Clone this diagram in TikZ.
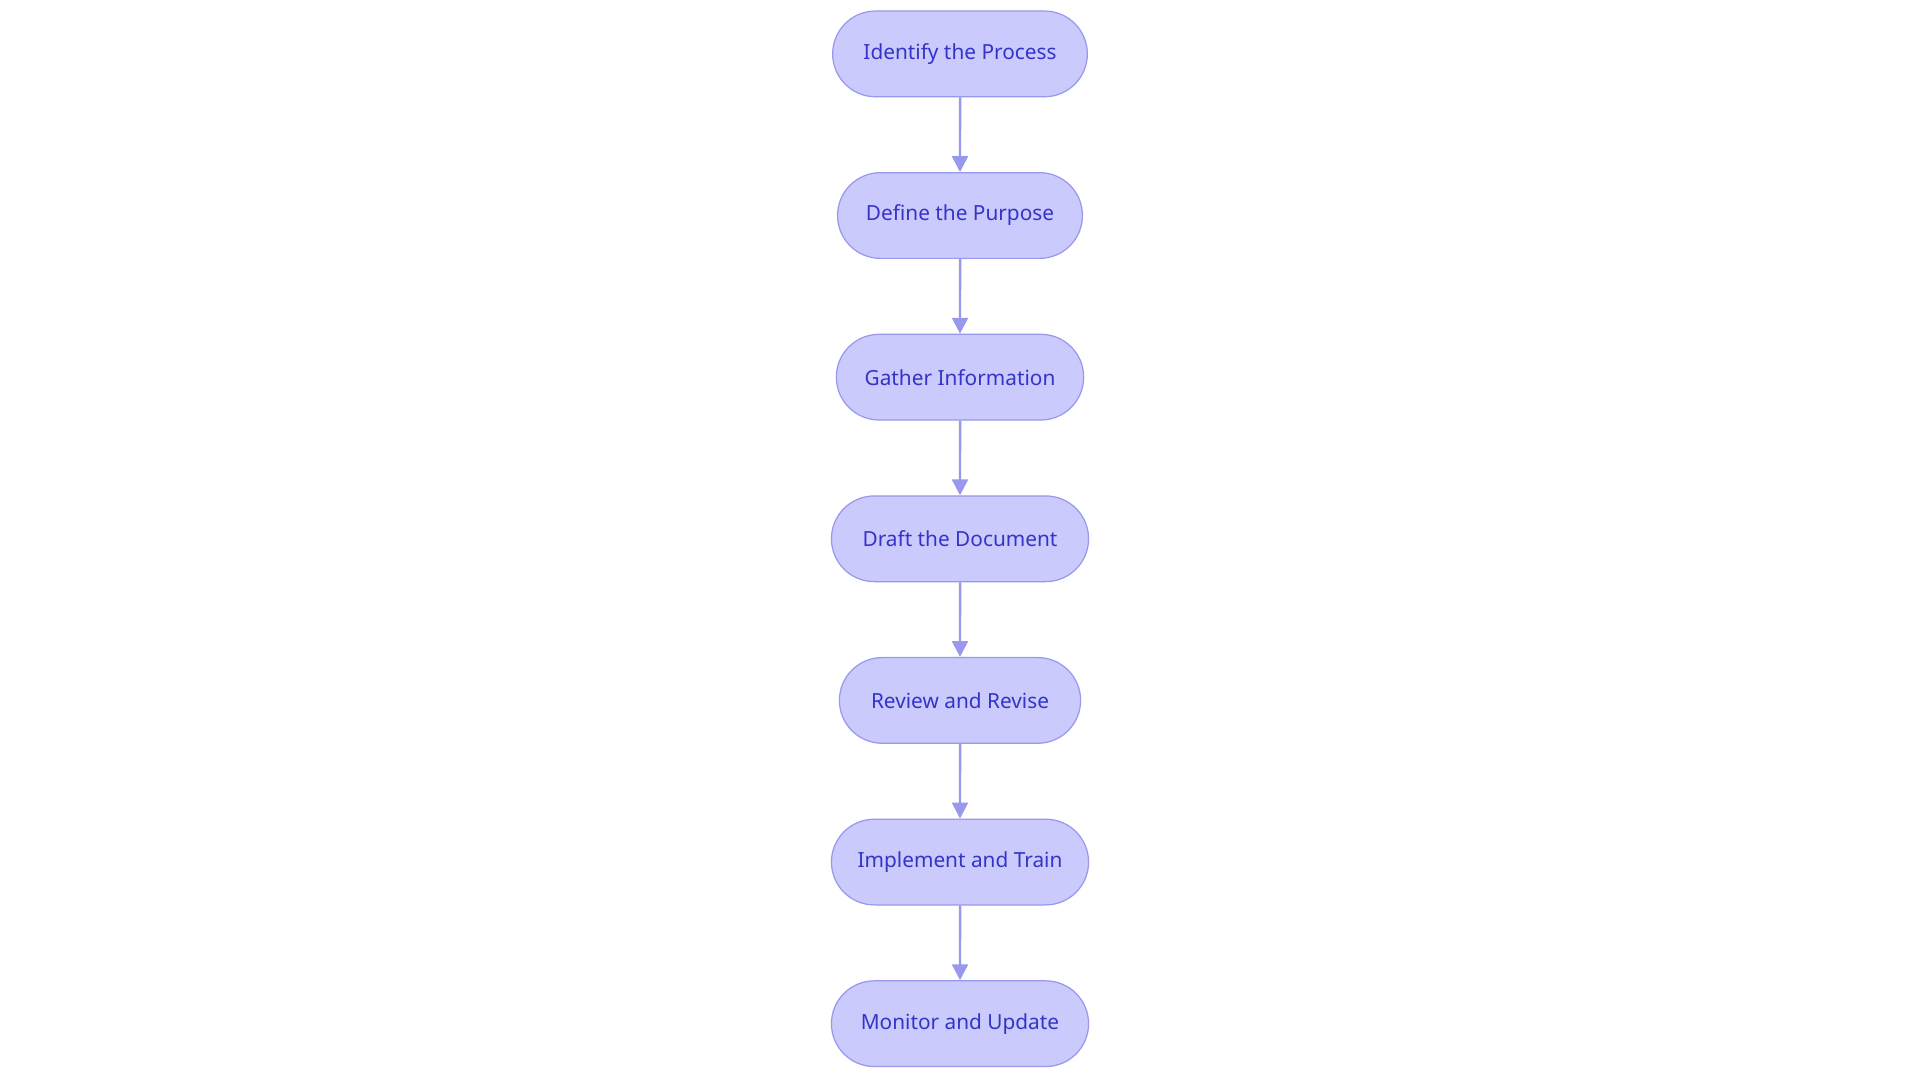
\documentclass[tikz,border=0pt]{standalone}
\usepackage{fontspec}
\setmainfont{Noto Sans}
\usetikzlibrary{arrows.meta,shapes.misc}
\definecolor{boxfill}{HTML}{CACAFD}
\definecolor{boxline}{HTML}{9898EC}
\definecolor{boxtext}{HTML}{3434C8}
\tikzset{
  stepbox/.style={draw=boxline, line width=1pt, fill=boxfill, rounded rectangle, minimum height=70pt, text=boxtext, font=\fontsize{17}{20}\selectfont, inner xsep=0pt},
  conn/.style={draw=boxline, line width=2pt, -{Triangle[length=13pt,width=13pt]}}
}
\begin{document}
\begin{tikzpicture}[x=1pt,y=1pt]
\useasboundingbox[fill=white] (0,0) rectangle (1568,-884);
\node[stepbox, minimum width=208pt] (a) at (784,-44) {Identify the Process};
\node[stepbox, minimum width=200pt] (b) at (784,-176) {Define the Purpose};
\node[stepbox, minimum width=202pt] (c) at (784,-308) {Gather Information};
\node[stepbox, minimum width=210pt] (d) at (784,-440) {Draft the Document};
\node[stepbox, minimum width=197pt] (e) at (784,-572) {Review and Revise};
\node[stepbox, minimum width=210pt] (f) at (784,-704) {Implement and Train};
\node[stepbox, minimum width=210pt] (g) at (784,-836) {Monitor and Update};
\draw[conn] (a) -- (b);
\draw[conn] (b) -- (c);
\draw[conn] (c) -- (d);
\draw[conn] (d) -- (e);
\draw[conn] (e) -- (f);
\draw[conn] (f) -- (g);
\end{tikzpicture}
\end{document}
